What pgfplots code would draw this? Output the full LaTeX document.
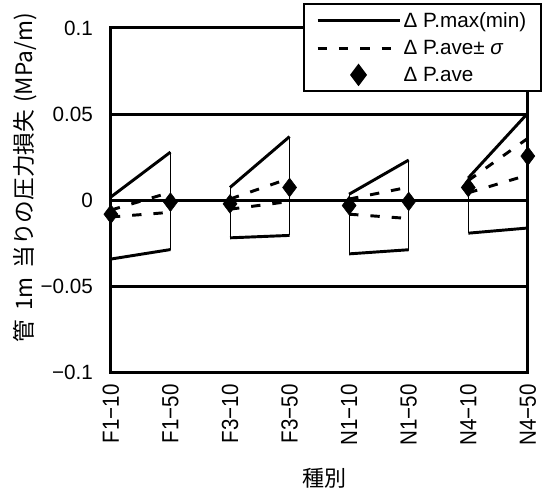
\documentclass[border=0pt]{standalone}
\usepackage{fontspec}
\setmainfont{Liberation Sans}
\newfontfamily\narrowfont{Liberation Sans}[FakeStretch=0.88]
\newfontfamily\cjk{Noto Sans CJK JP}
\usepackage{pgfplots}
\usepackage{pgfplotstable}
\pgfplotsset{compat=1.18}

% x: category index, nan rows break the lines between groups
\pgfplotstableread{
x    max     min      ave      up      lo
0    0.002   -0.034   -0.008   -0.0056 -0.0096
1    0.028   -0.0285  -0.001   0.0047  -0.0069
1.5  nan     nan      nan      nan     nan
2    0.0075  -0.0217  -0.002   0.0008  -0.0051
3    0.037   -0.0203  0.0075   0.0128  -0.0006
3.5  nan     nan      nan      nan     nan
4    0.0036  -0.031   -0.003   0.0008  -0.0080
5    0.0234  -0.0286  -0.0006  0.0077  -0.0105
5.5  nan     nan      nan      nan     nan
6    0.013   -0.019   0.0075   0.0115  0.0044
7    0.0506  -0.016   0.0257   0.036   0.0147
}\data

\begin{document}
\begin{tikzpicture}
\begin{axis}[
    scale only axis,
    width=312.75pt, height=258.75pt,
    xmin=0, xmax=7, ymin=-0.1, ymax=0.1,
    clip=false,
    font=\fontsize{15.5}{17}\selectfont,
    axis line style={line width=2.2pt},
    major tick style={draw=none},
    xtick={0,...,7},
    xticklabels={F1−10,F1−50,F3−10,F3−50,N1−10,N1−50,N4−10,N4−50},
    xticklabel style={rotate=90, anchor=east, font=\narrowfont\fontsize{17.5}{19}\selectfont},
    xticklabel shift=5pt,
    ytick={-0.1,-0.05,0,0.05,0.1},
    yticklabels={−0.1,−0.05,0,0.05,0.1},
    yticklabel shift=10pt,
    ymajorgrids, grid style={black, line width=2.2pt},
    xlabel={\cjk\fontsize{16.5}{18}\selectfont 種別},
    xlabel style={at={(axis description cs:0.513,-0.307)}, anchor=center},
    ylabel={\cjk\fontsize{17}{19}\selectfont 管\hspace{0.4em}1m\hspace{0.4em}当りの圧力損失\hspace{0.3em}(MPa/m)},
    ylabel style={at={(axis description cs:-0.206,0.565)}, anchor=center},
    legend style={at={(axis description cs:1.034,1.072)}, anchor=north east,
        draw=black, line width=1.8pt, fill=white, row sep=4pt,
        font=\fontsize{15.5}{17}\selectfont,
        inner xsep=9pt, inner ysep=4pt},
    legend cell align=left,
    legend image code/.code={\draw[mark repeat=2,mark phase=2,#1]
        plot coordinates {(0cm,0cm) (1.08cm,0cm) (2.16cm,0cm)};},
    unbounded coords=jump,
  ]
  % thin high-low lines
  \addplot[forget plot, draw=none, mark=none,
      error bars/.cd, y dir=both, y explicit, error mark=none,
      error bar style={black, line width=0.7pt}]
    table[x=x, y=ave,
      y error plus expr=\thisrow{max}-\thisrow{ave},
      y error minus expr=\thisrow{ave}-\thisrow{min}] {\data};
  \addplot[black, line width=2.2pt, mark=none] table[x=x, y=max] {\data};
  \addlegendentry{Δ P.max(min)}
  \addplot[forget plot, black, line width=2.2pt, mark=none] table[x=x, y=min] {\data};
  \addplot[black, line width=2.2pt, mark=none, dash pattern=on 7pt off 9pt] table[x=x, y=up] {\data};
  \addlegendentry{Δ P.ave± \textit{σ}}
  \addplot[forget plot, black, line width=2.2pt, mark=none, dash pattern=on 7pt off 9pt] table[x=x, y=lo] {\data};
  \addplot[only marks, mark=diamond*, mark size=7pt, black] table[x=x, y=ave] {\data};
  \addlegendentry{Δ P.ave}
  % page size as in the reference
  \path (axis description cs:-0.266,-0.339) rectangle (axis description cs:1.034,1.081);
\end{axis}
\end{tikzpicture}
\end{document}
